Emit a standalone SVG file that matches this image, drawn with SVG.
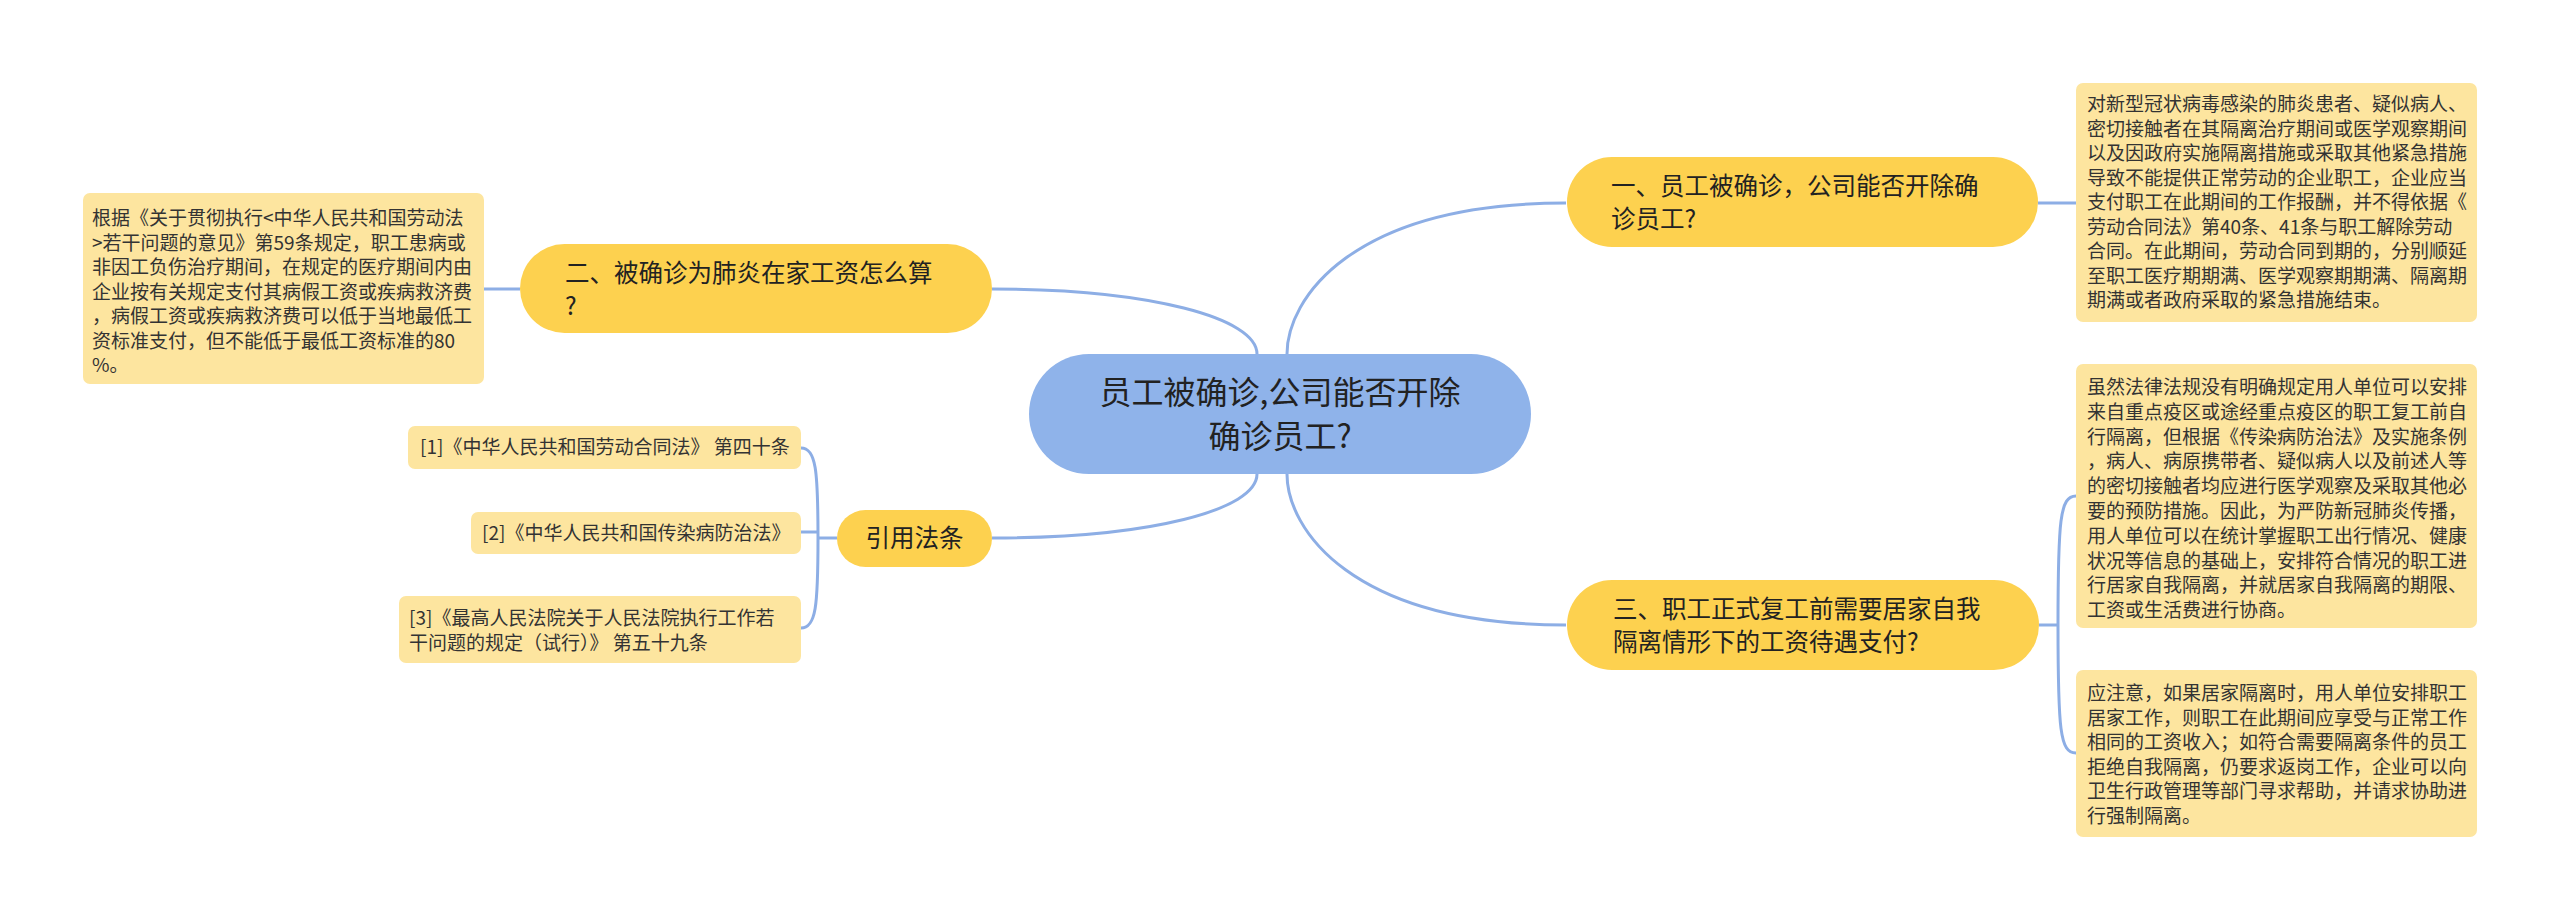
<svg xmlns="http://www.w3.org/2000/svg" width="2560" height="919" viewBox="0 0 2560 919">
<style>
text{font-family:"Noto Sans CJK SC","Noto Sans",sans-serif;fill:#222;}
.root{fill:#8fb3ea;}
.main{fill:#fdd14f;}
.leaf{fill:#fde59f;}
.rt{font-size:32px;}
.mt{font-size:24.5px;}
.lt{font-size:19px;fill:#333;}
.c{fill:none;stroke:#8daee5;stroke-width:3;}
</style>
<rect width="2560" height="919" fill="#ffffff"/>
<g id="connectors">
<path class="c" d="M1287,354 C1287,300 1350,203 1566,203"/>
<path class="c" d="M1287,474 C1287,528 1350,625 1566,625"/>
<path class="c" d="M1257,354 C1257,318 1150,289 992,289"/>
<path class="c" d="M1257,474 C1257,510 1150,538 992,538"/>
<path class="c" d="M2038,203 H2076"/>
<path class="c" d="M520,289 H484"/>
<path class="c" d="M2039,625 H2058"/>
<path class="c" d="M2058,625 C2058,520 2060,496 2076,496"/>
<path class="c" d="M2058,625 C2058,730 2060,753 2076,753"/>
<path class="c" d="M837,538 H818"/>
<path class="c" d="M818,538 C818,470 816,448 801,448"/>
<path class="c" d="M818,532 H801"/>
<path class="c" d="M818,538 C818,606 816,628 801,628"/>
</g>
<g id="root">
<rect class="root" x="1029" y="354" width="502" height="120" rx="60"/>
<text class="rt" x="1280" y="404" text-anchor="middle">员工被确诊,公司能否开除</text>
<text class="rt" x="1280" y="448" text-anchor="middle">确诊员工?</text>
</g>
<g id="n1">
<rect class="main" x="1567" y="157" width="471" height="90" rx="45"/>
<text class="mt" x="1611" y="195">一、员工被确诊，公司能否开除确</text>
<text class="mt" x="1611" y="228">诊员工?</text>
</g>
<g id="n2">
<rect class="main" x="520" y="244" width="472" height="89" rx="44.5"/>
<text class="mt" x="565" y="282">二、被确诊为肺炎在家工资怎么算</text>
<text class="mt" x="565" y="315">?</text>
</g>
<g id="n3">
<rect class="main" x="1567" y="580" width="472" height="90" rx="45"/>
<text class="mt" x="1613" y="618">三、职工正式复工前需要居家自我</text>
<text class="mt" x="1613" y="651">隔离情形下的工资待遇支付?</text>
</g>
<g id="n4">
<rect class="main" x="837" y="510" width="155" height="57" rx="28.5"/>
<text class="mt" x="914.5" y="547" text-anchor="middle">引用法条</text>
</g>
<g id="leaf1">
<rect class="leaf" x="2076" y="83" width="401" height="239" rx="7"/>
<text class="lt" x="2087" y="111">对新型冠状病毒感染的肺炎患者、疑似病人、</text>
<text class="lt" x="2087" y="135.5">密切接触者在其隔离治疗期间或医学观察期间</text>
<text class="lt" x="2087" y="160">以及因政府实施隔离措施或采取其他紧急措施</text>
<text class="lt" x="2087" y="184.5">导致不能提供正常劳动的企业职工，企业应当</text>
<text class="lt" x="2087" y="209">支付职工在此期间的工作报酬，并不得依据《</text>
<text class="lt" x="2087" y="233.5">劳动合同法》第40条、41条与职工解除劳动</text>
<text class="lt" x="2087" y="258">合同。在此期间，劳动合同到期的，分别顺延</text>
<text class="lt" x="2087" y="282.5">至职工医疗期期满、医学观察期期满、隔离期</text>
<text class="lt" x="2087" y="307">期满或者政府采取的紧急措施结束。</text>
</g>
<g id="leaf2">
<rect class="leaf" x="2076" y="364" width="401" height="264" rx="7"/>
<text class="lt" x="2087" y="394">虽然法律法规没有明确规定用人单位可以安排</text>
<text class="lt" x="2087" y="418.8">来自重点疫区或途经重点疫区的职工复工前自</text>
<text class="lt" x="2087" y="443.6">行隔离，但根据《传染病防治法》及实施条例</text>
<text class="lt" x="2087" y="468.4">，病人、病原携带者、疑似病人以及前述人等</text>
<text class="lt" x="2087" y="493.2">的密切接触者均应进行医学观察及采取其他必</text>
<text class="lt" x="2087" y="518">要的预防措施。因此，为严防新冠肺炎传播，</text>
<text class="lt" x="2087" y="542.8">用人单位可以在统计掌握职工出行情况、健康</text>
<text class="lt" x="2087" y="567.6">状况等信息的基础上，安排符合情况的职工进</text>
<text class="lt" x="2087" y="592.4">行居家自我隔离，并就居家自我隔离的期限、</text>
<text class="lt" x="2087" y="617.2">工资或生活费进行协商。</text>
</g>
<g id="leaf3">
<rect class="leaf" x="2076" y="670" width="401" height="167" rx="7"/>
<text class="lt" x="2087" y="700">应注意，如果居家隔离时，用人单位安排职工</text>
<text class="lt" x="2087" y="724.6">居家工作，则职工在此期间应享受与正常工作</text>
<text class="lt" x="2087" y="749.2">相同的工资收入；如符合需要隔离条件的员工</text>
<text class="lt" x="2087" y="773.8">拒绝自我隔离，仍要求返岗工作，企业可以向</text>
<text class="lt" x="2087" y="798.4">卫生行政管理等部门寻求帮助，并请求协助进</text>
<text class="lt" x="2087" y="823">行强制隔离。</text>
</g>
<g id="leaf4">
<rect class="leaf" x="83" y="193" width="401" height="191" rx="7"/>
<text class="lt" x="92" y="225">根据《关于贯彻执行&lt;中华人民共和国劳动法</text>
<text class="lt" x="92" y="249.5">&gt;若干问题的意见》第59条规定，职工患病或</text>
<text class="lt" x="92" y="274">非因工负伤治疗期间，在规定的医疗期间内由</text>
<text class="lt" x="92" y="298.5">企业按有关规定支付其病假工资或疾病救济费</text>
<text class="lt" x="92" y="323">，病假工资或疾病救济费可以低于当地最低工</text>
<text class="lt" x="92" y="347.5">资标准支付，但不能低于最低工资标准的80</text>
<text class="lt" x="92" y="372">%。</text>
</g>
<g id="ref1">
<rect class="leaf" x="408" y="426" width="393" height="43" rx="7"/>
<text class="lt" x="420" y="454">[1]《中华人民共和国劳动合同法》 第四十条</text>
</g>
<g id="ref2">
<rect class="leaf" x="471" y="512" width="330" height="42" rx="7"/>
<text class="lt" x="482" y="540">[2]《中华人民共和国传染病防治法》</text>
</g>
<g id="ref3">
<rect class="leaf" x="399" y="596" width="402" height="67" rx="7"/>
<text class="lt" x="409" y="625">[3]《最高人民法院关于人民法院执行工作若</text>
<text class="lt" x="409" y="650">干问题的规定（试行）》 第五十九条</text>
</g>
</svg>
